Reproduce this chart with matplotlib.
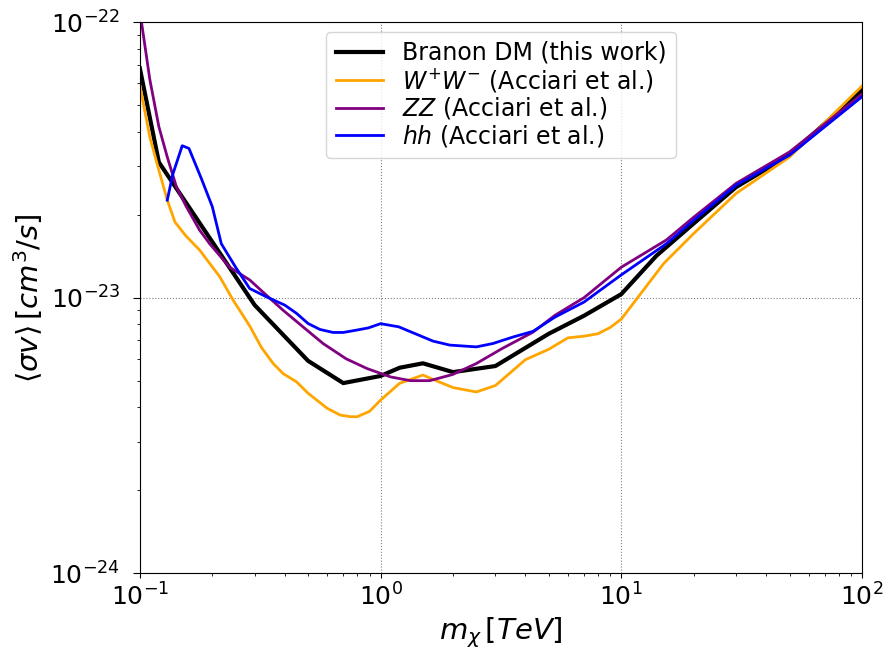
import numpy as np
import matplotlib.pyplot as plt

# Branon DM limit (this work)
m_branon = [0.1, 0.12, 0.3, 0.5, 0.7, 1.0, 1.2, 1.5, 2.0, 3.0, 5.0, 7.0, 10.0, 14.0, 20.0, 30.0, 50.0, 100.0]
sv_branon = [6.8e-23, 3.1e-23, 9.4e-24, 5.9e-24, 4.9e-24, 5.2e-24, 5.57e-24, 5.78e-24, 5.37e-24,
             5.65e-24, 7.4e-24, 8.6e-24, 1.03e-23, 1.42e-23, 1.86e-23, 2.52e-23, 3.29e-23, 5.66e-23]

# W+W- (Acciari et al.)
m_ww = [0.1, 0.11, 0.12, 0.13, 0.14, 0.155, 0.177, 0.215, 0.244, 0.286, 0.32, 0.358, 0.394, 0.448,
        0.5, 0.6, 0.68, 0.75, 0.8, 0.9, 1.0, 1.2, 1.5, 1.7, 2.0, 2.5, 3.0, 4.0, 5.0, 6.0, 7.0,
        8.0, 9.0, 10.0, 12.0, 15.0, 20.0, 30.0, 50.0, 100.0]
sv_ww = [5.9e-23, 3.83e-23, 2.9e-23, 2.26e-23, 1.88e-23, 1.68e-23, 1.49e-23, 1.19e-23, 9.8e-24,
         7.9e-24, 6.6e-24, 5.77e-24, 5.3e-24, 4.95e-24, 4.5e-24, 3.97e-24, 3.75e-24, 3.7e-24,
         3.7e-24, 3.87e-24, 4.25e-24, 4.89e-24, 5.24e-24, 5.0e-24, 4.72e-24, 4.55e-24, 4.8e-24,
         5.96e-24, 6.5e-24, 7.15e-24, 7.25e-24, 7.4e-24, 7.8e-24, 8.36e-24, 1.03e-23, 1.33e-23,
         1.71e-23, 2.39e-23, 3.24e-23, 5.86e-23]

# ZZ (Acciari et al.)
m_zz = [0.1, 0.11, 0.12, 0.13, 0.142, 0.156, 0.177, 0.195, 0.236, 0.286, 0.336, 0.394, 0.476,
        0.577, 0.72, 0.88, 1.1, 1.33, 1.6, 2.0, 2.5, 3.2, 4.3, 5.3, 7.0, 10.0, 15.4, 20.0, 30.0,
        50.0, 100.0]
sv_zz = [1.1e-22, 6.2e-23, 4.17e-23, 3.24e-23, 2.52e-23, 2.14e-23, 1.76e-23, 1.57e-23, 1.29e-23,
         1.16e-23, 1.02e-23, 9.0e-24, 7.84e-24, 6.82e-24, 6.0e-24, 5.53e-24, 5.16e-24, 5.0e-24,
         5.0e-24, 5.27e-24, 5.77e-24, 6.54e-24, 7.5e-24, 8.63e-24, 1.0e-23, 1.29e-23, 1.62e-23,
         1.96e-23, 2.6e-23, 3.38e-23, 5.48e-23]

# hh (Acciari et al.)
m_hh = [0.13, 0.137, 0.15, 0.16, 0.18, 0.2, 0.218, 0.25, 0.286, 0.336, 0.4, 0.448, 0.5, 0.56,
        0.635, 0.7, 0.79, 0.89, 1.0, 1.19, 1.41, 1.65, 1.94, 2.5, 2.93, 3.55, 4.3, 5.3, 7.0,
        10.0, 15.4, 20.0, 30.0, 50.0, 100.0]
sv_hh = [2.26e-23, 2.8e-23, 3.56e-23, 3.48e-23, 2.71e-23, 2.14e-23, 1.57e-23, 1.29e-23, 1.08e-23,
         1.007e-23, 9.4e-24, 8.77e-24, 8.06e-24, 7.67e-24, 7.48e-24, 7.48e-24, 7.62e-24, 7.77e-24,
         8.05e-24, 7.84e-24, 7.37e-24, 6.96e-24, 6.73e-24, 6.63e-24, 6.82e-24, 7.2e-24, 7.55e-24,
         8.5e-24, 9.64e-24, 1.21e-23, 1.57e-23, 1.91e-23, 2.56e-23, 3.29e-23, 5.36e-23]

fig, ax = plt.subplots(figsize=(8.85, 6.5), dpi=100)

ax.plot(m_branon, sv_branon, color='black', lw=3, label='Branon DM (this work)')
ax.plot(m_ww, sv_ww, color='orange', lw=2, label=r'$W^{+}W^{-}$ (Acciari et al.)')
ax.plot(m_zz, sv_zz, color='purple', lw=2, label=r'$ZZ$ (Acciari et al.)')
ax.plot(m_hh, sv_hh, color='blue', lw=2, label=r'$hh$ (Acciari et al.)')

ax.set_xscale('log')
ax.set_yscale('log')
ax.set_xlim(0.1, 100)
ax.set_ylim(1e-24, 1e-22)
ax.grid(True, which='major', ls=':', color='grey', lw=0.8)

ax.set_xlabel(r'$m_\chi\,[TeV]$', fontsize=21)
ax.set_ylabel(r'$\langle\sigma v\rangle\,[cm^3/s]$', fontsize=21)
ax.tick_params(labelsize=18)
ax.tick_params(axis='y', which='major', length=5, pad=9)
ax.legend(loc='upper center', fontsize=17, handlelength=2, labelspacing=0.05,
          borderaxespad=0.4)

plt.subplots_adjust(left=0.158, right=0.974, top=0.966, bottom=0.118)
plt.savefig('out.png')
